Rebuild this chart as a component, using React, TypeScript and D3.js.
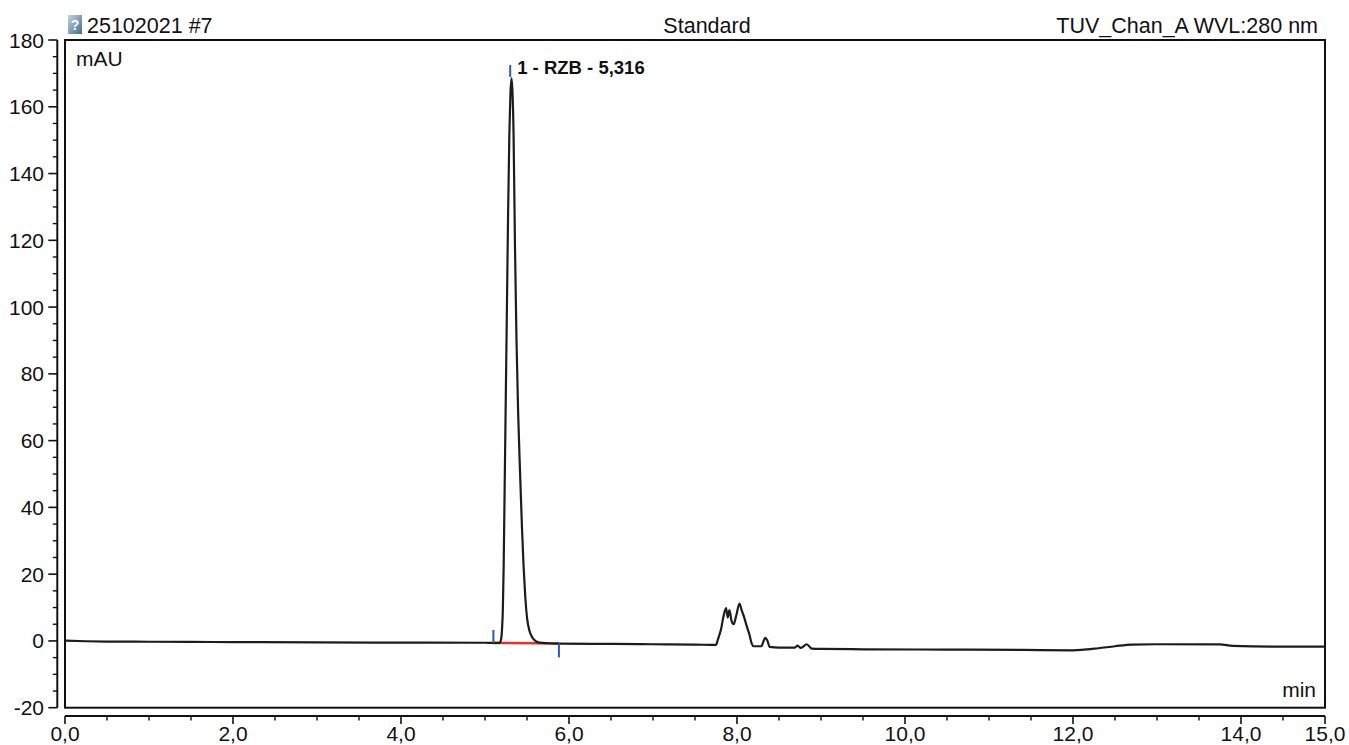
import React from 'react';
import * as d3 from 'd3';

// Header texts
const sampleName = '25102021 #7';
const sampleType = 'Standard';
const channelName = 'TUV_Chan_A WVL:280 nm';

// Axis ticks
const yMajorTicks = [-20, 0, 20, 40, 60, 80, 100, 120, 140, 160, 180];
const yMinorTicks = [-15, -10, -5, 5, 10, 15, 25, 30, 35, 45, 50, 55, 65, 70, 75, 85, 90, 95, 105, 110, 115, 125, 130, 135, 145, 150, 155, 165, 170, 175];
const xMajorTicks = [0, 2, 4, 6, 8, 10, 12, 14, 15];
const xTickLabels = ['0,0', '2,0', '4,0', '6,0', '8,0', '10,0', '12,0', '14,0', '15,0'];
const xMinorTicks = [0.5, 1, 1.5, 2.5, 3, 3.5, 4.5, 5, 5.5, 6.5, 7, 7.5, 8.5, 9, 9.5, 10.5, 11, 11.5, 12.5, 13, 13.5, 14.5];

// Chromatogram trace (min, mAU)
const retentionTimes = [
  0.0, 0.25, 0.5, 1.0, 1.5, 2.0, 3.0, 4.0, 5.0, 5.1, 5.17, 5.19, 5.2, 5.212, 5.222, 5.232, 5.245, 5.26,
  5.275, 5.29, 5.303, 5.316, 5.328, 5.34, 5.357, 5.375, 5.395, 5.418, 5.44, 5.46, 5.48, 5.5, 5.53, 5.56,
  5.6, 5.65, 5.75, 5.9, 6.5, 7.0, 7.5, 7.75, 7.77, 7.785, 7.81, 7.84, 7.87, 7.89, 7.91, 7.935, 7.96, 7.99,
  8.03, 8.055, 8.08, 8.115, 8.147, 8.175, 8.2, 8.29, 8.31, 8.335, 8.36, 8.39, 8.5, 8.69, 8.72, 8.76, 8.83,
  8.89, 9.0, 9.5, 10.5, 11.4, 12.0, 12.1, 12.3, 12.5, 12.7, 13.0, 13.75, 13.9, 14.5, 15.0,
];
const absorbance = [
  0.1, -0.1, -0.2, -0.25, -0.3, -0.35, -0.45, -0.5, -0.55, -0.6, -0.6, 0.3, 2.5, 9, 22, 42, 68, 98,
  128, 152, 164, 168.5, 164, 152, 118, 90, 68, 50, 34, 22, 13, 7, 3, 1.2,
  0.0, -0.5, -0.7, -0.8, -0.9, -1.0, -1.1, -1.2, 0.2, 1.4, 3.5, 7.5, 9.8, 7.0, 9.2, 6.0, 5.0, 7.5,
  11.2, 9.2, 7.5, 4.5, 2.0, -0.8, -1.6, -1.6, -0.5, 0.9, 0.2, -1.8, -2.0, -2.0, -1.4, -2.1, -1.0,
  -2.3, -2.4, -2.5, -2.6, -2.7, -2.8, -2.7, -2.2, -1.6, -1.1, -1.0, -1.05, -1.5, -1.7, -1.7,
];

// Integrated peak
const peakLabel = '1 - RZB - 5,316';
const peakApex = 5.3;
const peakStart = [5.1, -0.6];
const peakEnd = [5.88, -0.75];

const width = 1349;
const height = 745;

export default function App() {
  const x = d3.scaleLinear().domain([0, 15]).range([65, 1325]);
  const y = d3.scaleLinear().domain([-20, 180]).range([707.7, 40]);

  const points: [number, number][] = retentionTimes.map((t, i) => [t, absorbance[i]]);
  const line = d3
    .line<[number, number]>()
    .x((d) => x(d[0]))
    .y((d) => y(d[1]))
    .curve(d3.curveMonotoneX);

  const font = '"Liberation Sans", Arial, Helvetica, sans-serif';
  const axisY = 716;
  const axisX = 57.3;

  return (
    <svg
      width={width}
      height={height}
      style={{ position: 'absolute', left: 0, top: 0, background: '#fff' }}
      fontFamily={font}
    >
      <defs>
        <linearGradient id="icon" x1="0" y1="0" x2="1" y2="1">
          <stop offset="0" stopColor="#c8d3dc" />
          <stop offset="1" stopColor="#3e6e96" />
        </linearGradient>
      </defs>

      {/* header */}
      <rect x={68} y={15} width={14} height={19} fill="url(#icon)" />
      <text x={75} y={30} fontSize={14} fontWeight="bold" fill="#fff" textAnchor="middle">?</text>
      <text x={87} y={33} fontSize={21.5} fill="#111">{sampleName}</text>
      <text x={707} y={33} fontSize={21.5} fill="#111" textAnchor="middle">{sampleType}</text>
      <text x={1318} y={33} fontSize={21.5} fill="#111" textAnchor="end">{channelName}</text>

      {/* plot frame */}
      <rect x={x(0)} y={y(180)} width={x(15) - x(0)} height={y(-20) - y(180)} fill="none" stroke="#111" strokeWidth={2} />
      <text x={76} y={66} fontSize={21} fill="#111">mAU</text>
      <text x={1316} y={697} fontSize={21} fill="#111" textAnchor="end">min</text>

      {/* y axis */}
      <line x1={axisX} x2={axisX} y1={y(180)} y2={y(-20)} stroke="#111" strokeWidth={2} />
      {yMajorTicks.map((v) => (
        <g key={'ym' + v}>
          <line x1={axisX - 9} x2={axisX} y1={y(v)} y2={y(v)} stroke="#111" strokeWidth={1.6} />
          <text x={44} y={y(v)} dy="0.36em" fontSize={21} fill="#111" textAnchor="end">{v}</text>
        </g>
      ))}
      {yMinorTicks.map((v) => (
        <line key={'yn' + v} x1={axisX - 4.5} x2={axisX} y1={y(v)} y2={y(v)} stroke="#111" strokeWidth={1.4} />
      ))}

      {/* x axis */}
      <line x1={x(0)} x2={x(15)} y1={axisY} y2={axisY} stroke="#111" strokeWidth={2} />
      {xMajorTicks.map((v, i) => (
        <g key={'xm' + v}>
          <line x1={x(v)} x2={x(v)} y1={axisY} y2={axisY + 8} stroke="#111" strokeWidth={1.6} />
          <text x={x(v)} y={741} fontSize={21} fill="#111" textAnchor="middle">{xTickLabels[i]}</text>
        </g>
      ))}
      {xMinorTicks.map((v) => (
        <line key={'xn' + v} x1={x(v)} x2={x(v)} y1={axisY} y2={axisY + 4.5} stroke="#111" strokeWidth={1.4} />
      ))}

      {/* peak baseline */}
      <line x1={x(peakStart[0])} y1={y(peakStart[1])} x2={x(peakEnd[0])} y2={y(peakEnd[1])} stroke="#e8312a" strokeWidth={2.5} />

      {/* trace */}
      <path d={line(points) ?? ''} fill="none" stroke="#1c1c1c" strokeWidth={2.2} strokeLinejoin="round" />

      {/* peak delimiters */}
      <line x1={x(peakStart[0])} x2={x(peakStart[0])} y1={y(peakStart[1])} y2={y(peakStart[1]) - 13} stroke="#2a5db0" strokeWidth={2} />
      <line x1={x(peakEnd[0])} x2={x(peakEnd[0])} y1={y(peakEnd[1])} y2={y(peakEnd[1]) + 14} stroke="#2a5db0" strokeWidth={2} />
      <line x1={x(peakApex)} x2={x(peakApex)} y1={65} y2={77} stroke="#2a5db0" strokeWidth={2} />
      <text x={x(peakApex) + 7} y={74} fontSize={18.5} fontWeight="bold" fill="#111">{peakLabel}</text>
    </svg>
  );
}
